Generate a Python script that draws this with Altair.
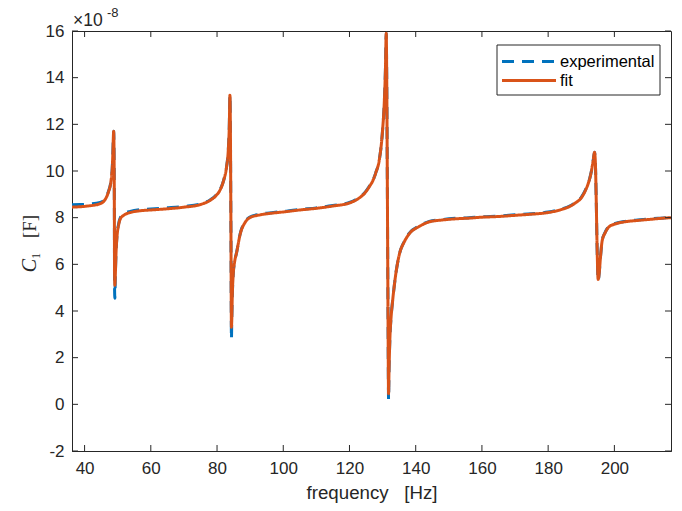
import altair as alt
import pandas as pd

# ---- data (values in units of 1e-8 F) ----
freq = [36.2, 38.7, 41, 44.7, 46.5, 47.2, 48.0, 48.35, 48.55, 48.7, 48.78, 48.9, 49.0, 49.05,
        49.15, 49.3, 49.5, 49.8, 50.3, 50.8, 52, 53.8, 57, 60, 65, 70, 74.9, 78, 79.6, 80.9, 82.0,
        82.9, 83.4, 83.7, 83.9, 84.05, 84.2, 84.35, 84.45, 84.6, 84.9, 85.3, 85.9, 87, 88.5,
        89.9, 93, 97, 101, 105, 110, 115, 120, 123, 124.6, 126, 127.1, 128, 129, 130, 130.5, 130.85, 131.1,
        131.25, 131.45, 131.65, 131.8, 131.95, 132.2, 132.6, 133, 134, 135.1, 136.5, 138, 141,
        144.1, 148, 152, 156, 160, 165, 170, 175, 180, 184, 186.5, 188.2, 190, 191.3, 192.3,
        193.0, 193.6, 194.0, 194.25, 194.5, 194.8, 195.1, 195.4, 195.8, 196.3, 197.2, 198.3,
        200, 203, 207, 211, 214, 217.1]

fit = [8.45, 8.47, 8.5, 8.6, 8.85, 9.1, 9.6, 10.1, 10.8, 11.5, 11.7, 10.8, 8.0, 5.6,
       5.1, 5.6, 6.5, 7.2, 7.7, 7.95, 8.12, 8.22, 8.3, 8.33, 8.38, 8.45, 8.56, 8.75, 8.93, 9.18, 9.6,
       10.2, 10.9, 11.9, 13.25, 11.5, 7.5, 3.3, 3.6, 4.6, 5.6, 6.1, 6.5, 7.3, 7.8,
       8.0, 8.12, 8.2, 8.26, 8.33, 8.4, 8.5, 8.63, 8.85, 9.05, 9.33, 9.6, 9.95, 10.47, 11.76, 12.9, 14.3, 15.9,
       14.0, 9.0, 3.5, 0.45, 1.5, 2.8, 3.8, 4.4, 5.6, 6.45, 6.95, 7.3, 7.62,
       7.82, 7.9, 7.95, 7.98, 8.02, 8.05, 8.1, 8.15, 8.22, 8.35, 8.48, 8.63, 8.85, 9.18, 9.55,
       9.95, 10.45, 10.8, 10.4, 8.9, 6.6, 5.35, 5.6, 6.3, 7.0, 7.35, 7.6,
       7.72, 7.82, 7.88, 7.93, 7.97, 8.0]

experimental = [8.55, 8.56, 8.58, 8.65, 8.88, 9.12, 9.6, 10.1, 10.8, 11.5, 11.7, 10.8, 8.0, 5.0,
                4.55, 5.6, 6.5, 7.25, 7.75, 8.0, 8.17, 8.27, 8.35, 8.37, 8.42, 8.48, 8.58, 8.77, 8.95, 9.2, 9.6,
                10.2, 10.9, 11.9, 13.25, 11.5, 7.5, 2.8, 3.6, 4.6, 5.6, 6.1, 6.5, 7.32, 7.83,
                8.03, 8.15, 8.22, 8.28, 8.35, 8.42, 8.52, 8.65, 8.87, 9.07, 9.35, 9.6, 9.95, 10.47, 11.76, 12.9, 14.3, 15.9,
                14.0, 9.0, 3.5, 0.2, 1.5, 2.8, 3.8, 4.4, 5.6, 6.45, 6.97, 7.33, 7.64,
                7.84, 7.92, 7.97, 8.0, 8.04, 8.07, 8.12, 8.17, 8.24, 8.37, 8.5, 8.65, 8.87, 9.2, 9.55,
                9.95, 10.45, 10.8, 10.4, 8.9, 6.6, 5.3, 5.6, 6.3, 7.0, 7.37, 7.62,
                7.74, 7.84, 7.9, 7.95, 7.98, 8.01]

series_names = ["experimental", "fit"]
series_colors = ["#0072BD", "#D95319"]
x_ticks = [40, 60, 80, 100, 120, 140, 160, 180, 200]
y_ticks = [-2, 0, 2, 4, 6, 8, 10, 12, 14, 16]

rows = []
for f, v in zip(freq, experimental):
    rows.append({"frequency": f, "C": v, "series": "experimental"})
for f, v in zip(freq, fit):
    rows.append({"frequency": f, "C": v, "series": "fit"})
df = pd.DataFrame(rows)

W, H = 599, 420
FONT = "Liberation Sans"
AX = "#262626"
NB = "\u00a0"
DASH = [12, 8]

xs = alt.Scale(domain=[36.2, 217.1], nice=False, zero=False)
ys = alt.Scale(domain=[-2, 16], nice=False, zero=False)

lines = alt.Chart(df).mark_line(strokeWidth=3, clip=True, interpolate="monotone").encode(
    x=alt.X("frequency:Q", scale=xs,
            axis=alt.Axis(values=x_ticks, title=f"frequency{NB*3}[Hz]", ticks=False,
                          labelPadding=9, titlePadding=7, labelExpr="'' + datum.value")),
    y=alt.Y("C:Q", scale=ys,
            axis=alt.Axis(values=y_ticks, title=None, ticks=False, labelPadding=8,
                          labelExpr="'' + datum.value")),
    color=alt.Color("series:N", scale=alt.Scale(domain=series_names, range=series_colors),
                    legend=None),
    strokeDash=alt.StrokeDash("series:N",
                              scale=alt.Scale(domain=series_names, range=[DASH, [1, 0]]),
                              legend=None),
)

xt = pd.DataFrame({"frequency": x_ticks})
yt = pd.DataFrame({"C": y_ticks})
tick_style = dict(color=AX, strokeWidth=1)
bottom_ticks = alt.Chart(xt).mark_rule(**tick_style).encode(
    x=alt.X("frequency:Q", scale=xs), y=alt.value(H), y2=alt.value(H - 6))
top_ticks = alt.Chart(xt).mark_rule(**tick_style).encode(
    x=alt.X("frequency:Q", scale=xs), y=alt.value(0), y2=alt.value(6))
left_ticks = alt.Chart(yt).mark_rule(**tick_style).encode(
    y=alt.Y("C:Q", scale=ys), x=alt.value(0), x2=alt.value(6))
right_ticks = alt.Chart(yt).mark_rule(**tick_style).encode(
    y=alt.Y("C:Q", scale=ys), x=alt.value(W), x2=alt.value(W - 6))

one = pd.DataFrame({"a": [0]})

# legend (drawn by hand, MATLAB style)
LX0, LX1, LY0, LY1 = 425, 588, 14, 64
leg_box = alt.Chart(one).mark_rect(fill="white", stroke=AX, strokeWidth=1).encode(
    x=alt.value(LX0), x2=alt.value(LX1), y=alt.value(LY0), y2=alt.value(LY1))
leg_exp_line = alt.Chart(one).mark_rule(color=series_colors[0], strokeWidth=3,
                                        strokeDash=DASH).encode(
    x=alt.value(430), x2=alt.value(484), y=alt.value(30.5))
leg_fit_line = alt.Chart(one).mark_rule(color=series_colors[1], strokeWidth=3).encode(
    x=alt.value(430), x2=alt.value(484), y=alt.value(49.5))
leg_exp_text = alt.Chart(one).mark_text(font=FONT, fontSize=16.5, color="black", align="left",
                                        baseline="middle").encode(
    text=alt.value(series_names[0]), x=alt.value(488), y=alt.value(30.5))
leg_fit_text = alt.Chart(one).mark_text(font=FONT, fontSize=16.5, color="black", align="left",
                                        baseline="middle").encode(
    text=alt.value(series_names[1]), x=alt.value(488), y=alt.value(49.5))

exp_base = alt.Chart(one).mark_text(font=FONT, fontSize=17.5, color=AX, align="left",
                                    baseline="alphabetic").encode(
    text=alt.value("×10"), x=alt.value(1), y=alt.value(-5))
exp_pow = alt.Chart(one).mark_text(font=FONT, fontSize=13, color=AX, align="left",
                                   baseline="alphabetic").encode(
    text=alt.value("-8"), x=alt.value(35), y=alt.value(-14))

ytitle_c = alt.Chart(one).mark_text(font="Liberation Serif", fontSize=20, fontStyle="italic",
                                    color=AX, align="right", baseline="alphabetic",
                                    angle=270).encode(
    text=alt.value("C"), x=alt.value(-36), y=alt.value(228))
ytitle_rest = alt.Chart(one).mark_text(font="Liberation Serif", fontSize=19, color=AX,
                                       align="left", baseline="alphabetic",
                                       angle=270).encode(
    text=alt.value(f"₁{NB*3}[F]"), x=alt.value(-36), y=alt.value(228))

chart = alt.layer(
    lines, bottom_ticks, top_ticks, left_ticks, right_ticks,
    leg_box, leg_exp_line, leg_fit_line, leg_exp_text, leg_fit_text,
    exp_base, exp_pow, ytitle_c, ytitle_rest,
).properties(
    width=W, height=H,
    padding={"left": 72, "top": 31, "right": 11, "bottom": 60},
    autosize=alt.AutoSizeParams(type="none"),
    background="white",
).configure_view(
    stroke=AX, strokeWidth=1,
).configure_axis(
    grid=False, domainColor=AX, labelFont=FONT, labelFontSize=17, labelColor=AX,
    titleFont=FONT, titleFontSize=18.7, titleFontWeight="normal", titleColor=AX,
)

chart.save("out.html", embed_options={"renderer": "svg", "actions": False})
